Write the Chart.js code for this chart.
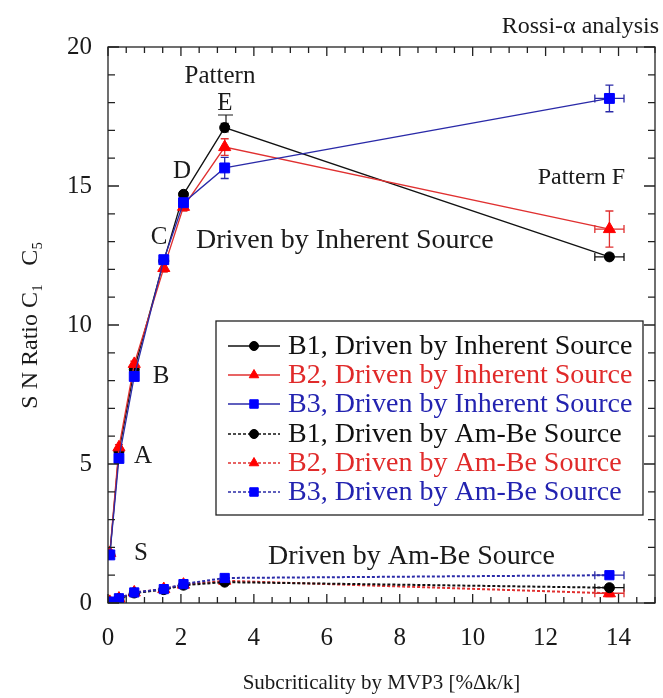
<!DOCTYPE html>
<html><head><meta charset="utf-8">
<script src="https://cdn.jsdelivr.net/npm/chart.js@4.4.0/dist/chart.umd.min.js"></script>
<style>html,body{margin:0;padding:0;background:#fff;}#wrap{width:663px;height:698px;position:relative;}</style>
</head><body><div id="wrap"><canvas id="c"></canvas></div>
<script>
// ---- data ----
const xPoints    = [0.05, 0.3, 0.72, 1.53, 2.07, 3.2, 13.75];
const b1Inherent = [1.75, 5.45, 8.4, 12.3, 14.7, 17.1, 12.45];
const b2Inherent = [1.8, 5.6, 8.6, 12.05, 14.25, 16.4, 13.45];
const b3Inherent = [1.73, 5.2, 8.15, 12.35, 14.4, 15.65, 18.15];
const b1AmBe     = [0.03, 0.15, 0.36, 0.48, 0.64, 0.75, 0.55];
const b2AmBe     = [0.04, 0.16, 0.38, 0.5, 0.66, 0.8, 0.35];
const b3AmBe     = [0.05, 0.17, 0.38, 0.5, 0.68, 0.9, 1.0];
const xErr       = [0, 0, 0, 0, 0, 0, 0.4];
const b1InhErr   = [0, 0, 0, 0, 0.1, 0.15, 0.1];
const b2InhErr   = [0, 0.1, 0.1, 0.15, 0.15, 0.3, 0.65];
const b3InhErr   = [0, 0, 0, 0, 0.1, 0.38, 0.48];
const b1AmErr    = [0, 0, 0, 0, 0, 0.05, 0.1];
const b2AmErr    = [0, 0, 0, 0, 0, 0.05, 0.12];
const b3AmErr    = [0, 0, 0, 0, 0, 0.05, 0.1];
const xTicks = [0, 2, 4, 6, 8, 10, 12, 14];
const yTicks = [0, 5, 10, 15, 20];
const legendLabels = ['B1, Driven by Inherent Source','B2, Driven by Inherent Source','B3, Driven by Inherent Source',
                      'B1, Driven by Am-Be Source','B2, Driven by Am-Be Source','B3, Driven by Am-Be Source'];

const SERIF = '"Liberation Serif","Times New Roman",serif';
const COL = {
  black: {line:'#111111', point:'#000000', text:'#111111'},
  red:   {line:'#e03030', point:'#ff0000', text:'#e02a2a'},
  blue:  {line:'#2a2aa8', point:'#0000ff', text:'#2323b0'}
};
function pts(ys){ return xPoints.map((x,i)=>({x:x, y:ys[i]})); }
function ds(label, ys, err, c, style, dotted, order){
  return {
    label, data: pts(ys), yErr: err, xErr: xErr,
    borderColor: c.line, backgroundColor: c.point, pointBackgroundColor: c.point, pointBorderColor: c.point,
    textColor: c.text,
    borderWidth: dotted ? 2 : 1.3, borderDash: dotted ? [3,2] : [],
    pointStyle: style, pointRadius: style==='circle'?5:(style==='triangle'?7:(dotted?6.5:7)),
    pointBorderWidth: 1, tension: 0, fill:false, order
  };
}
const datasets = [
  ds(legendLabels[0], b1Inherent, b1InhErr, COL.black, 'circle', false, 5),
  ds(legendLabels[1], b2Inherent, b2InhErr, COL.red, 'triangle', false, 4),
  ds(legendLabels[2], b3Inherent, b3InhErr, COL.blue, 'rect', false, 3),
  ds(legendLabels[3], b1AmBe, b1AmErr, COL.black, 'circle', true, 1),
  ds(legendLabels[4], b2AmBe, b2AmErr, COL.red, 'triangle', true, 2),
  ds(legendLabels[5], b3AmBe, b3AmErr, COL.blue, 'rect', true, 0)
];

const errorBars = {
  id:'errorBars',
  beforeDatasetsDraw(chart){
    const ctx = chart.ctx, xs = chart.scales.x, ys = chart.scales.y;
    chart.data.datasets.forEach(d=>{
      ctx.save(); ctx.strokeStyle = d.borderColor; ctx.lineWidth = 1.3; ctx.setLineDash([]);
      d.data.forEach((p,i)=>{
        const px = xs.getPixelForValue(p.x), py = ys.getPixelForValue(p.y);
        const ye = d.yErr[i], xe = d.xErr[i];
        ctx.beginPath();
        if (ye>0){
          const t = ys.getPixelForValue(p.y+ye), b = ys.getPixelForValue(p.y-ye);
          ctx.moveTo(px,t); ctx.lineTo(px,b);
          ctx.moveTo(px-4,t); ctx.lineTo(px+4,t);
          ctx.moveTo(px-4,b); ctx.lineTo(px+4,b);
        }
        if (xe>0){
          const l = xs.getPixelForValue(p.x-xe), r = xs.getPixelForValue(p.x+xe);
          ctx.moveTo(l,py); ctx.lineTo(r,py);
          ctx.moveTo(l,py-4); ctx.lineTo(l,py+4);
          ctx.moveTo(r,py-4); ctx.lineTo(r,py+4);
        }
        ctx.stroke();
      });
      ctx.restore();
    });
  }
};

const frameTicks = {
  id:'frameTicks',
  afterDraw(chart){
    const ctx = chart.ctx, xs = chart.scales.x, ys = chart.scales.y, a = chart.chartArea;
    ctx.save(); ctx.strokeStyle='#222'; ctx.lineWidth=1.3; ctx.setLineDash([]);
    ctx.strokeRect(a.left, a.top, a.right-a.left, a.bottom-a.top);
    ctx.beginPath();
    for (let v=0; v<=15.001; v+=0.5){
      const px = xs.getPixelForValue(v), len = (Math.abs(v/2-Math.round(v/2))<1e-6)?9:6;
      ctx.moveTo(px,a.bottom); ctx.lineTo(px,a.bottom-len);
      ctx.moveTo(px,a.top); ctx.lineTo(px,a.top+len);
    }
    for (let v=0; v<=20; v+=1){
      const py = ys.getPixelForValue(v), len = (v%5===0)?11:7;
      ctx.moveTo(a.left,py); ctx.lineTo(a.left+len,py);
      ctx.moveTo(a.right,py); ctx.lineTo(a.right-len,py);
    }
    ctx.stroke(); ctx.restore();
  }
};

const notes = {
  id:'notes',
  afterDraw(chart){
    const ctx = chart.ctx;
    ctx.save(); ctx.fillStyle='#1a1a1a'; ctx.textBaseline='middle';
    const t = (s,x,y,size,align)=>{ ctx.font = size+'px '+SERIF; ctx.textAlign = align||'center'; ctx.fillText(s,x,y); };
    t('Rossi-\u03b1 analysis', 659, 27, 24, 'right');
    t('Pattern', 220, 76, 25);
    t('E', 225, 103, 25);
    ctx.strokeStyle='#1a1a1a'; ctx.lineWidth=1.2;
    ctx.beginPath(); ctx.moveTo(218,115); ctx.lineTo(233,115); ctx.moveTo(226,115); ctx.lineTo(226,123); ctx.stroke();
    t('D', 182, 171, 25);
    t('C', 159, 237, 25);
    t('B', 161, 376, 25);
    t('A', 143, 456, 25);
    t('S', 141, 553, 25);
    t('Pattern F', 625, 178, 24, 'right');
    t('Driven by Inherent Source', 196, 241, 28, 'left');
    t('Driven by Am-Be Source', 268, 557, 28, 'left');
    // legend
    const L = {x:216, y:321, w:427, h:194};
    ctx.fillStyle='#fff'; ctx.fillRect(L.x,L.y,L.w,L.h);
    ctx.strokeStyle='#222'; ctx.lineWidth=1.3; ctx.strokeRect(L.x,L.y,L.w,L.h);
    const rows = [346, 375, 404, 434, 463, 492];
    chart.data.datasets.forEach((d,i)=>{
      const y = rows[i];
      ctx.strokeStyle = d.borderColor; ctx.lineWidth = d.borderWidth === 2 ? 1.6 : 1.3;
      ctx.setLineDash(d.borderDash);
      ctx.beginPath(); ctx.moveTo(228,y); ctx.lineTo(280,y); ctx.stroke();
      ctx.setLineDash([]);
      ctx.fillStyle = d.pointBackgroundColor; ctx.strokeStyle = d.pointBorderColor; ctx.lineWidth=1;
      Chart.helpers.drawPoint(ctx, {pointStyle:d.pointStyle, radius: d.pointStyle==='triangle'?5.5:(d.pointStyle==='rect'?6:4.5), rotation:0, borderWidth:1}, 254, y);
      ctx.fillStyle = d.textColor; ctx.textAlign='left'; ctx.textBaseline='middle';
      ctx.font = '28px '+SERIF;
      ctx.fillText(d.label, 288, y+1);
    });
    ctx.restore();
  }
};

new Chart(document.getElementById('c'), {
  type:'line',
  data:{datasets},
  options:{
    responsive:true, maintainAspectRatio:false, animation:false,
    layout:{padding:{top:47, right:8, left:0, bottom:0}},
    plugins:{legend:{display:false}, tooltip:{enabled:false}},
    scales:{
      x:{type:'linear', min:0, max:15,
        afterBuildTicks(s){ s.ticks = xTicks.map(v=>({value:v})); },
        afterFit(s){ s.height = 95; },
        grid:{display:false, drawTicks:false}, border:{display:false},
        ticks:{color:'#1a1a1a', font:{family:SERIF, size:25}, padding:20, maxRotation:0, autoSkip:false},
        title:{display:true, text:'Subcriticality by MVP3 [%\u0394k/k]', color:'#1a1a1a', font:{family:SERIF, size:21}, padding:{top:0,bottom:2}}
      },
      y:{type:'linear', min:0, max:20,
        afterBuildTicks(s){ s.ticks = yTicks.map(v=>({value:v})); },
        afterFit(s){ s.width = 108; },
        grid:{display:false, drawTicks:false}, border:{display:false},
        ticks:{color:'#1a1a1a', font:{family:SERIF, size:25}, padding:16, autoSkip:false},
        title:{display:true, text:'S N Ratio C\u2081   C\u2085', color:'#1a1a1a', font:{family:SERIF, size:24}, padding:{top:16,bottom:0}}
      }
    }
  },
  plugins:[errorBars, frameTicks, notes]
});
</script></body></html>
